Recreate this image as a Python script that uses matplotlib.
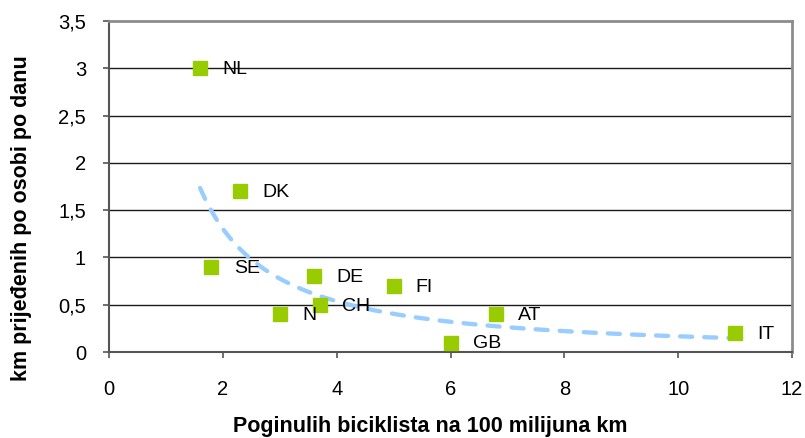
import numpy as np
import matplotlib.pyplot as plt
from matplotlib.ticker import FuncFormatter

plt.rcParams['font.family'] = ['Liberation Sans', 'DejaVu Sans']

# Poginulih biciklista na 100 milijuna km vs. km prijeđenih po osobi po danu
countries = ["NL", "DK", "SE", "N", "CH", "DE", "FI", "GB", "AT", "IT"]
deaths = [1.6, 2.3, 1.8, 3.0, 3.7, 3.6, 5.0, 6.0, 6.8, 11.0]
km_per_day = [3.0, 1.7, 0.9, 0.4, 0.5, 0.8, 0.7, 0.1, 0.4, 0.2]

x = np.array(deaths)
y = np.array(km_per_day)

# power trendline y = a * x^b, fitted in log space
b, ln_a = np.polyfit(np.log(x), np.log(y), 1)
xt = np.linspace(x.min(), x.max(), 200)
yt = np.exp(ln_a) * xt ** b

fig = plt.figure(figsize=(8.05, 4.38), dpi=100)
ax = fig.add_axes([0.1354, 0.1963, 0.8485, 0.7557])

for v in np.arange(0.5, 3.01, 0.5):
    ax.axhline(v, color="#1a1a1a", lw=1.0, zorder=1)

ax.plot(xt, yt, color="#99CCFF", lw=3.1, ls=(0, (2.8, 2.8)),
        dash_capstyle="round", zorder=2)
ax.plot(x, y, "s", color="#99CC00", ms=9.5, mec="#99CC00", zorder=3)

for name, xi, yi in zip(countries, x, y):
    ax.annotate(name, (xi, yi), xytext=(16, -1), textcoords="offset points",
                va="center", ha="left", fontsize=14)

ax.set_xlim(0, 12)
ax.set_ylim(0, 3.5)
ax.set_xticks(range(0, 13, 2))
ax.set_yticks(np.arange(0, 3.51, 0.5))
ax.yaxis.set_major_formatter(FuncFormatter(lambda v, p: f"{v:g}".replace(".", ",")))

for side in ["top", "right"]:
    ax.spines[side].set_color("#8c8c8c")
    ax.spines[side].set_linewidth(2)
for side in ["left", "bottom"]:
    ax.spines[side].set_color("#555555")
    ax.spines[side].set_linewidth(1.5)

ax.tick_params(axis="x", direction="out", length=4, width=1.2, color="#555555",
               pad=16, labelsize=14.5)
ax.tick_params(axis="y", direction="out", length=4, width=1.2, color="#555555",
               pad=12.5, labelsize=14.5)

ax.set_xlabel("Poginulih biciklista na 100 milijuna km", fontsize=15.5,
              fontweight="bold")
ax.set_ylabel("km prijeđenih po osobi po danu", fontsize=15.5,
              fontweight="bold")
ax.xaxis.set_label_coords(0.47, -0.194)
ax.yaxis.set_label_coords(-0.113, 0.405)

fig.savefig("out.png", dpi=100)
